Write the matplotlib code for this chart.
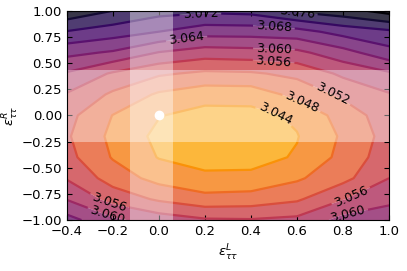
import matplotlib
matplotlib.use("Agg")
import numpy as np
import matplotlib.pyplot as plt
from matplotlib.colors import Normalize
from matplotlib.ticker import FuncFormatter

# grid coordinates
eps_L = [-0.4, -0.2, 0.0, 0.2, 0.4, 0.6, 0.8, 1.0]
eps_R = [-1.0, -0.8, -0.6, -0.4, -0.2, 0.0, 0.2, 0.4, 0.6, 0.8, 1.0]

# chi values, one list per eps_R row (x from -0.4 to 1.0)
row_m10 = [3.0655, 3.0608, 3.0582, 3.0565, 3.0563, 3.0570, 3.0614, 3.0628]
row_m08 = [3.0598, 3.0545, 3.0514, 3.0494, 3.0498, 3.0514, 3.0558, 3.0588]
row_m06 = [3.0557, 3.0502, 3.0466, 3.0448, 3.0450, 3.0474, 3.0508, 3.0560]
row_m04 = [3.0533, 3.0477, 3.0438, 3.0426, 3.0425, 3.0444, 3.0492, 3.0543]
row_m02 = [3.0525, 3.0470, 3.0430, 3.0419, 3.0422, 3.0438, 3.0486, 3.0536]
row_p00 = [3.0533, 3.0479, 3.0442, 3.0426, 3.0427, 3.0447, 3.0497, 3.0542]
row_p02 = [3.0557, 3.0513, 3.0474, 3.0456, 3.0457, 3.0492, 3.0528, 3.0557]
row_p04 = [3.0596, 3.0555, 3.0526, 3.0512, 3.0515, 3.0530, 3.0568, 3.0594]
row_p06 = [3.0651, 3.0635, 3.0598, 3.0580, 3.0584, 3.0590, 3.0625, 3.0666]
row_p08 = [3.0718, 3.0700, 3.0680, 3.0657, 3.0658, 3.0665, 3.0695, 3.0712]
row_p10 = [3.0790, 3.0760, 3.0735, 3.0728, 3.0733, 3.0767, 3.0785, 3.0815]

fill_levels = [3.040, 3.044, 3.048, 3.052, 3.056, 3.060, 3.064,
               3.068, 3.072, 3.076, 3.080, 3.084]
line_levels = [3.044, 3.048, 3.052, 3.056, 3.060, 3.064,
               3.068, 3.072, 3.076, 3.080]

# excluded bands
band_x = [-0.125, 0.06]
band_y = [-0.25, 0.433]
best_point = [0.0, 0.0]

Z = np.array([row_m10, row_m08, row_m06, row_m04, row_m02, row_p00,
              row_p02, row_p04, row_p06, row_p08, row_p10])
X, Y = np.meshgrid(eps_L, eps_R)

fig = plt.figure(figsize=(4.07, 2.71), dpi=100)
ax = fig.add_axes([0.164, 0.188, 0.792, 0.7723])

norm = Normalize(vmin=3.0324, vmax=3.0804)
ax.contourf(X, Y, Z, levels=fill_levels, cmap="inferno_r", norm=norm,
            alpha=0.8, zorder=1, antialiased=True)
cs = ax.contour(X, Y, Z, levels=line_levels, cmap="inferno_r", norm=norm,
                linewidths=1.6, zorder=2)

label_pos = [(0.50, -0.03), (0.62, 0.12), (0.76, 0.24), (0.50, 0.56),
             (0.50, 0.65), (0.12, 0.74), (0.50, 0.86), (0.18, 0.98),
             (0.60, 1.00), (-0.21, -0.80), (-0.22, -0.93), (0.84, -0.80),
             (0.82, -0.95)]
ax.clabel(cs, fmt="%.3f", fontsize=9, inline=True, colors="k",
          manual=label_pos, inline_spacing=3)

ax.axvspan(band_x[0], band_x[1], color="white", alpha=0.4, lw=0, zorder=2.5)
ax.axhspan(band_y[0], band_y[1], color="white", alpha=0.4, lw=0, zorder=2.5)
ax.plot(best_point[0], best_point[1], "o", color="white", ms=6, zorder=4)

ax.set_xlim(-0.4, 1.0)
ax.set_ylim(-1.0, 1.0)
ax.set_xticks([-0.4, -0.2, 0.0, 0.2, 0.4, 0.6, 0.8, 1.0])
ax.set_yticks([-1.0, -0.75, -0.5, -0.25, 0.0, 0.25, 0.5, 0.75, 1.0])
ax.xaxis.set_major_formatter(FuncFormatter(
    lambda v, p: ("%.1f" % v).replace("-", "\u2212")))
ax.yaxis.set_major_formatter(FuncFormatter(
    lambda v, p: ("%.2f" % v).replace("-", "\u2212")))
ax.tick_params(direction="in", top=True, right=True, labelsize=9.5)
ax.set_xlabel(r"$\epsilon_{\tau\tau}^{L}$", fontsize=9.5)
ax.set_ylabel(r"$\epsilon_{\tau\tau}^{R}$", fontsize=9.5)
ax.xaxis.set_label_coords(0.5, -0.11)
ax.yaxis.set_label_coords(-0.143, 0.5)

fig.savefig("out.png", dpi=100)
